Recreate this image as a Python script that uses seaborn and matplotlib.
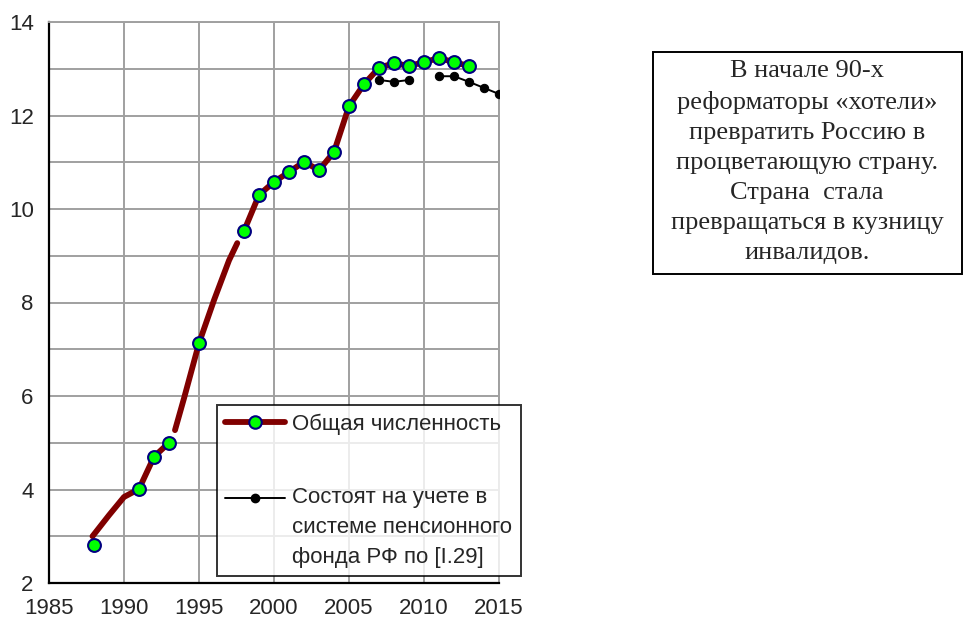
import numpy as np
import pandas as pd
import seaborn as sns
from matplotlib import pyplot as plt
from matplotlib.lines import Line2D
from matplotlib.patches import Rectangle
from matplotlib.legend_handler import HandlerLine2D

#%%
# total number, line as drawn (NaN = break in the line)
line_years = [1987.9, 1989, 1990, 1991, 1992, 1993, np.nan,
              1993.4, 1994, 1995, 1996, 1997, 1997.55, np.nan,
              1998, 1999, 2000, 2001, 2002, 2003, 2004, 2005, 2006,
              2007, 2008, 2009, 2010, 2011, 2012, 2013]
line_vals = [3.0, 3.45, 3.84, 4.01, 4.70, 5.0, np.nan,
             5.27, 5.95, 7.13, 8.05, 8.9, 9.27, np.nan,
             9.53, 10.30, 10.58, 10.79, 11.01, 10.83, 11.22, 12.20, 12.67,
             13.02, 13.12, 13.06, 13.14, 13.23, 13.14, 13.06]

# total number, marked points
mark_years = [1988, 1991, 1992, 1993, 1995, 1998, 1999, 2000, 2001, 2002,
              2003, 2004, 2005, 2006, 2007, 2008, 2009, 2010, 2011, 2012, 2013]
mark_vals = [2.81, 4.01, 4.70, 5.0, 7.13, 9.53, 10.30, 10.58, 10.79, 11.01,
             10.83, 11.22, 12.20, 12.67, 13.02, 13.12, 13.06, 13.14, 13.23,
             13.14, 13.06]

# pension fund registry
pf_years = [2007, 2008, 2009, 2010, 2011, 2012, 2013, 2014, 2015]
pf_vals = [12.76, 12.72, 12.76, np.nan, 12.84, 12.84, 12.72, 12.59, 12.46]

lbl_total = "Общая численность"
lbl_pf = "Состоят на учете в\nсистеме пенсионного\nфонда РФ по [I.29]"
note = ("В начале 90-х\nреформаторы «хотели»\nпревратить Россию в\n"
        "процветающую страну.\nСтрана  стала\nпревращаться в кузницу\n"
        "инвалидов.")

#%%
def with_segments(xs, ys):
    df = pd.DataFrame({"year": xs, "val": ys})
    df["seg"] = df["val"].isna().cumsum()
    return df.dropna()

line_df = with_segments(line_years, line_vals)
pf_df = with_segments(pf_years, pf_vals)
mark_df = pd.DataFrame({"year": mark_years, "val": mark_vals})

sns.set_style("white")
plt.rcParams['font.family'] = ['Liberation Sans', 'DejaVu Sans']

fig = plt.figure(figsize=(9.63, 6.19), dpi=100)
ax = fig.add_axes([49 / 963, 36 / 619, 450 / 963, 561 / 619])

red = "#800000"
sns.lineplot(data=line_df, x="year", y="val", units="seg", estimator=None,
             color=red, lw=4.2, ax=ax, solid_capstyle="round", zorder=3)
sns.scatterplot(data=mark_df, x="year", y="val", color="#00ff00",
                edgecolor="#000080", linewidth=1.5, s=85, ax=ax, zorder=4)
sns.lineplot(data=pf_df, x="year", y="val", units="seg", estimator=None,
             color="black", lw=1.4, marker="o", markersize=6,
             markeredgecolor="black", ax=ax, zorder=5)

ax.set_xlim(1985, 2015)
ax.set_ylim(2, 14)
ax.set_xticks(range(1985, 2016, 5))
ax.set_yticks(range(2, 15, 2))
ax.set_yticks(range(3, 14, 2), minor=True)
ax.grid(True, which="both", color="#a0a0a0", lw=1.4)
ax.set_axisbelow(True)
ax.set_xlabel("")
ax.set_ylabel("")
ax.tick_params(axis="both", which="major", direction="out", length=5,
               width=1.4, color="black", labelsize=16, pad=6)
ax.tick_params(axis="y", which="minor", length=0)
for s in ["left", "bottom"]:
    ax.spines[s].set_color("black")
    ax.spines[s].set_linewidth(1.6)
for s in ["top", "right"]:
    ax.spines[s].set_color("#a0a0a0")
    ax.spines[s].set_linewidth(1.4)


class RaisedHandler(HandlerLine2D):
    def __init__(self, shift, **kw):
        super().__init__(**kw)
        self.shift = shift

    def create_artists(self, *args, **kw):
        arts = super().create_artists(*args, **kw)
        for a in arts:
            a.set_ydata(np.asarray(a.get_ydata()) + self.shift)
        return arts


h_total = Line2D([], [], color=red, lw=4.2, marker="o", markersize=9,
                 markerfacecolor="#00ff00", markeredgecolor="#000080",
                 markeredgewidth=1.5, solid_capstyle="round")
h_pf = Line2D([], [], color="black", lw=1.4, marker="o", markersize=6)
leg = ax.legend([h_total, h_pf], [lbl_total, lbl_pf],
                loc="upper left", bbox_to_anchor=(168 / 450, 178 / 561),
                frameon=True, fancybox=False, fontsize=16,
                handlelength=2.7, handletextpad=0.3, labelspacing=2.35,
                borderpad=0.38, borderaxespad=0,
                handler_map={h_pf: RaisedHandler(shift=21, numpoints=1)})
for t in leg.get_texts():
    t.set_linespacing(1.55)
leg.get_frame().set_edgecolor("black")
leg.get_frame().set_linewidth(1.4)
leg.set_zorder(10)

# note box on the right
fig.patches.append(Rectangle((653 / 963, 1 - 274 / 619), 309 / 963, 222 / 619,
                             transform=fig.transFigure, facecolor="white",
                             edgecolor="black", lw=1.4))
fig.text(807 / 963, 1 - 162 / 619, note, ha="center", va="center",
         family=["Liberation Serif", "DejaVu Serif"], fontsize=19,
         linespacing=1.47)

fig.savefig("out.png", dpi=100)
